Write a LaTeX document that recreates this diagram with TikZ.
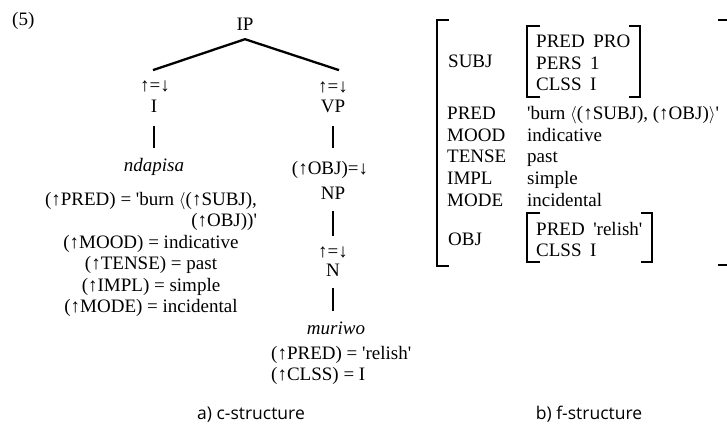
\documentclass[tikz,border=0pt]{standalone}
\usepackage{fontspec}
\setmainfont{Liberation Serif}
\newfontfamily\captionfont{Open Sans}
\usepackage{tikz}

\newcommand{\uarr}{↑}
\newcommand{\darr}{↓}
\newcommand{\sq}{\textquotesingle}
\newcommand{\fsp}{\hspace{0.45em}}

\begin{document}
\begin{tikzpicture}[x=1pt,y=-1pt,
		every node/.style={font=\fontsize{19}{21.5}\selectfont,inner sep=0pt,anchor=base},
		branch/.style={line width=2.3pt},
		fbracket/.style={line width=2.3pt},
		caplabel/.style={font=\captionfont\fontsize{17.5}{20}\selectfont}]
				\useasboundingbox (0,0) rectangle (727,425);
				\node (ex) at (12,26) [anchor=base west] {(5)};
				% c-structure: the tree
				\node (ip) at (245,31) {IP};
				\node (iann) at (155,92) {\uarr=\darr};
				\node (i) at (154,113) {I};
				\node (vpann) at (333,93) {\uarr=\darr};
				\node (vp) at (333,113) {VP};
				\draw[branch] ([yshift=-8pt]ip.south) -- ([xshift=-2pt,yshift=11pt]iann.north);
				\draw[branch] ([yshift=-8pt]ip.south) -- ([xshift=6pt,yshift=12pt]vpann.north);
				% the verb
				\node (ilex) at (154,171) {\itshape ndapisa};
				\node (ieqs) at (151,205) {\begin{tabular}[t]{@{}c@{}}
						(\uarr PRED) = \sq burn $\langle$(\uarr SUBJ),\\
						\hfill(\uarr OBJ))\sq\\
						(\uarr MOOD) = indicative\\
						(\uarr TENSE) = past\\
						(\uarr IMPL) = simple\\
						(\uarr MODE) = incidental
					\end{tabular}};
				\draw[branch,shorten <=13pt,shorten >=10pt] (i.south) -- (i.south |- ilex.north);
				% the object
				\node (objann) at (330,174) {(\uarr OBJ)=\darr};
				\node (np) at (333,199) {NP};
				\node (nann) at (333,257) {\uarr=\darr};
				\node (n) at (333,276) {N};
				\node (nlex) at (336,334) {\itshape muriwo};
				\node (neqs) at (271,359) [anchor=base west] {\begin{tabular}[t]{@{}l@{}}
						(\uarr PRED) = \sq relish\sq\\
						(\uarr CLSS) = I
					\end{tabular}};
				\draw[branch,shorten <=13pt,shorten >=13pt] (vp.south) -- (vp.south |- objann.north);
				\draw[branch,shorten <=12pt,shorten >=10pt] (np.south) -- (np.south |- nann.north);
				\draw[branch,shorten <=12pt,shorten >=10pt] (n.south) -- (n.south |- nlex.north);
				% f-structure: outer brackets
				\draw[fbracket] (449,20) -- (437,20) -- (437,266) -- (449,266);
				\draw[fbracket] (718,20) -- (729,20) -- (729,265) -- (718,265);
				% SUBJ
				\node (subj) at (448,68) [anchor=base west] {SUBJ};
				\node (subjval) at (536,48) [anchor=base west] {\begin{tabular}[t]{@{}l@{}}
						PRED\fsp PRO\\
						PERS\fsp 1\\
						CLSS\fsp I
					\end{tabular}};
				\draw[fbracket] (540,26) -- (527,26) -- (527,97) -- (540,97);
				\draw[fbracket] (629,26) -- (640,26) -- (640,97) -- (629,97);
				% the plain attributes
				\node (attrs) at (447,120) [anchor=base west] {\begin{tabular}[t]{@{}l@{}}
						PRED\\
						MOOD\\
						TENSE\\
						IMPL\\
						MODE
					\end{tabular}};
				\node (vals) at (527,120) [anchor=base west] {\begin{tabular}[t]{@{}l@{}}
						\sq burn $\langle$(\uarr SUBJ), (\uarr OBJ)$\rangle$\sq\\
						indicative\\
						past\\
						simple\\
						incidental
					\end{tabular}};
				% OBJ
				\node (obj) at (448,245) [anchor=base west] {OBJ};
				\node (objval) at (536,235) [anchor=base west] {\begin{tabular}[t]{@{}l@{}}
						PRED\fsp\sq relish\sq\\
						CLSS\fsp I
					\end{tabular}};
				\draw[fbracket] (540,213) -- (527,213) -- (527,262) -- (540,262);
				\draw[fbracket] (641,213) -- (652,213) -- (652,262) -- (641,262);
				% captions
				\node[caplabel] (acap) at (251,419) {a) c-structure};
				\node[caplabel] (bcap) at (589,419) {b) f-structure};
			\end{tikzpicture}
\end{document}
